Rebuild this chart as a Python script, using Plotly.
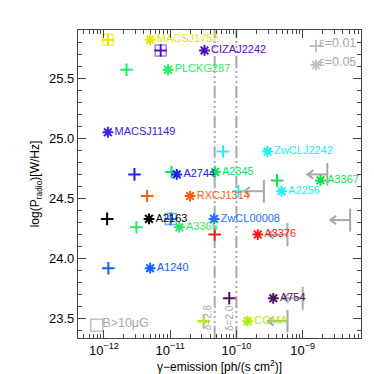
import numpy as np
import plotly.graph_objects as go

# ---------------- data ----------------
names = ["MACSJ1752", "CIZAJ2242", "PLCKG287", "MACSJ1149", "A2744", "A2345",
         "RXCJ1314", "A2163", "A3365", "ZwCL00008", "A3376", "ZwCLJ2242",
         "A2256", "A3367", "A1240", "A754", "COMA"]
# gamma-ray emission for eps=0.05 (asterisks) [ph/(s cm^2)]
gamma_e05 = [5.0e-12, 3.3e-11, 9.3e-12, 1.15e-12, 1.26e-11, 4.8e-11,
             2.0e-11, 4.8e-12, 1.38e-11, 4.6e-11, 2.1e-10, 2.95e-10,
             4.8e-10, 1.86e-9, 5.0e-12, 3.6e-10, 1.48e-10]
# gamma-ray emission for eps=0.01 (plus signs)
gamma_e01 = [1.15e-12, 7.2e-12, 2.2e-12, None, 2.9e-12, 1.05e-11,
             4.5e-12, 1.12e-12, 3.1e-12, 1.02e-11, 4.7e-11, 6.3e-11,
             1.07e-10, 4.1e-10, 1.17e-12, 7.8e-11, 3.2e-11]
log_pradio = [25.82, 25.73, 25.57, 25.05, 24.70, 24.72,
              24.52, 24.33, 24.26, 24.33, 24.20, 24.89,
              24.56, 24.65, 23.92, 23.67, 23.48]
strong_B = [True, True, False, False, False, False,
            False, False, False, True, False, False,
            False, False, False, False, False]
colors = ["#e6e600", "#5010c8", "#20f060", "#4020e0", "#2020f0", "#10e060",
          "#ff5a10", "#000000", "#30e860", "#1e70ff", "#ff1818", "#20f0f0",
          "#20f0f0", "#10e050", "#1060ff", "#501060", "#a8f000"]
square_colors = ["#f0f060", "#a080e8", None, None, None, None,
                 None, None, None, "#80b0ff", None, None,
                 None, None, None, None, None]

# observed upper limits
limit_gamma = [2.35e-9, 2.6e-10, 5.2e-9, 5.9e-10, 1.0e-9, 5.9e-10]
limit_logp = [24.70, 24.56, 24.32, 24.20, 23.67, 23.48]

# spectral-index reference lines
delta_gamma = [4.7e-11, 1.0e-10]
delta_labels = ["δ=2.8", "δ=2.0"]

# axis tick labels
x_tickvals = [1e-12, 1e-11, 1e-10, 1e-9]
x_ticktext = ["10<sup>−12</sup>", "10<sup>−11</sup>", "10<sup>−10</sup>", "10<sup>−9</sup>"]

X_RANGE = [-12.39, -8.12]
Y_RANGE = [23.34, 25.9]
GRAY = "#a8a8a8"
FONT = "Liberation Sans, Arial, sans-serif"

fig = go.Figure()

# delta lines
for dx in delta_gamma:
    fig.add_trace(go.Scatter(x=[dx, dx], y=Y_RANGE, mode="lines",
                             line=dict(color=GRAY, width=2,
                                       dash="12px,3px,2px,3px,2px,3px,2px,3px"),
                             hoverinfo="skip", showlegend=False))

# upper limits: vertical bar + left arrow
bar_h = 0.095
arr_len = 0.30
head_dx = 0.09
head_dy = 0.035
lx, ly = [], []
for gx, gy in zip(limit_gamma, limit_logp):
    tip = gx / 10 ** arr_len
    lx += [gx, gx, None, gx, tip, None,
           tip * 10 ** head_dx, tip, tip * 10 ** head_dx, None]
    ly += [gy - bar_h, gy + bar_h, None, gy, gy, None,
           gy + head_dy, gy, gy - head_dy, None]
fig.add_trace(go.Scatter(x=lx, y=ly, mode="lines",
                         line=dict(color=GRAY, width=2),
                         hoverinfo="skip", showlegend=False))

# squares for strong B
sq_x = [g for g, s in zip(gamma_e01, strong_B) if s]
sq_y = [p for p, s in zip(log_pradio, strong_B) if s]
sq_c = [c for c, s in zip(square_colors, strong_B) if s]
fig.add_trace(go.Scatter(x=sq_x, y=sq_y, mode="markers",
                         marker=dict(symbol="square-open", size=11,
                                     color=sq_c, line=dict(width=1.5, color=sq_c)),
                         hoverinfo="skip", showlegend=False))

# plus signs (eps=0.01)
px_ = [g for g in gamma_e01 if g is not None]
py_ = [p for g, p in zip(gamma_e01, log_pradio) if g is not None]
pc_ = [c for g, c in zip(gamma_e01, colors) if g is not None]
fig.add_trace(go.Scatter(x=px_, y=py_, mode="markers",
                         marker=dict(symbol="cross-thin-open", size=9,
                                     color=pc_, line=dict(width=2, color=pc_)),
                         hoverinfo="skip", showlegend=False))

# asterisks (eps=0.05) with labels
fig.add_trace(go.Scatter(x=gamma_e05, y=log_pradio, mode="markers+text",
                         text=names, textposition="middle right",
                         textfont=dict(size=11, color=colors, family=FONT),
                         marker=dict(symbol="asterisk-open", size=9,
                                     color=colors, line=dict(width=2, color=colors)),
                         hoverinfo="skip", showlegend=False))

# legend items on overlay axes (paper-like coordinates)
fig.add_trace(go.Scatter(x=[0.841, 0.841, 0.066], y=[0.948, 0.886, 0.041],
                         mode="markers", xaxis="x2", yaxis="y2",
                         marker=dict(symbol=["cross-thin-open", "asterisk-open", "square-open"],
                                     size=[9, 9, 12], color=GRAY,
                                     line=dict(width=[2, 2, 1.5], color=GRAY)),
                         hoverinfo="skip", showlegend=False))
fig.add_trace(go.Scatter(x=[0.852, 0.852, 0.086], y=[0.955, 0.893, 0.045],
                         mode="text", xaxis="x2", yaxis="y2",
                         text=["ε=0.01", "ε=0.05", "B>10μG"],
                         textposition="middle right",
                         textfont=dict(size=12.5, color=GRAY, family=FONT),
                         hoverinfo="skip", showlegend=False))

for dx, lab in zip(delta_gamma, delta_labels):
    fig.add_annotation(x=np.log10(dx), y=23.51, xref="x", yref="y",
                       text=lab, textangle=-90, showarrow=False,
                       xshift=-7, font=dict(size=10, color=GRAY, family=FONT))

# minor tick positions on the log axis (2..9 per decade)
x_minor = [m * 10.0 ** e for e in range(-13, -7) for m in range(2, 10)]

axis_common = dict(showline=True, linecolor="#444", linewidth=1.2,
                   mirror="allticks", ticks="inside", tickcolor="#444",
                   ticklen=8, tickwidth=1, showgrid=False, zeroline=False,
                   tickfont=dict(size=13, color="#000", family=FONT))

fig.update_layout(
    width=374, height=374,
    margin=dict(l=70, r=21, t=22, b=44),
    paper_bgcolor="white", plot_bgcolor="white",
    font=dict(family=FONT, color="#000"),
    xaxis=dict(type="log", range=X_RANGE,
               tickmode="array", tickvals=x_tickvals, ticktext=x_ticktext,
               minor=dict(ticks="inside", ticklen=4, tickcolor="#444",
                          tickmode="array", tickvals=x_minor, showgrid=False),
               title=dict(text="γ−emission [ph/(s cm<sup>2</sup>)]",
                          font=dict(size=12, family=FONT), standoff=4),
               **axis_common),
    yaxis=dict(range=Y_RANGE, dtick=0.5, tick0=23.5, tickformat=".1f",
               minor=dict(ticks="inside", ticklen=4, tickcolor="#444", dtick=0.1,
                          showgrid=False),
               title=dict(text="log(P<sub>radio</sub>)[W/Hz]",
                          font=dict(size=12, family=FONT), standoff=6),
               **axis_common),
    xaxis2=dict(overlaying="x", range=[0, 1], visible=False),
    yaxis2=dict(overlaying="y", range=[0, 1], visible=False),
)

fig.write_html("out.html")
